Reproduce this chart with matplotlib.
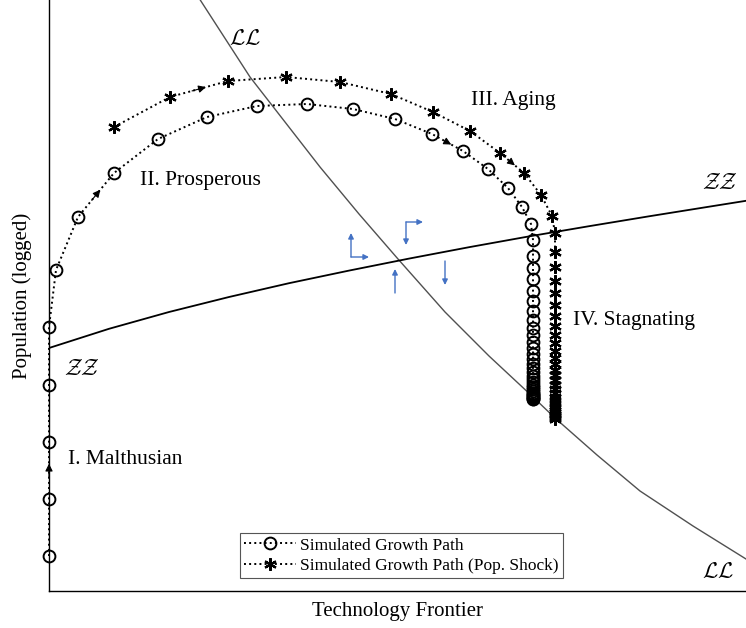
import matplotlib
matplotlib.use("Agg")
import matplotlib.pyplot as plt

# Simulated growth path (circles), arbitrary units (logged)
path_x = [0, 0, 0, 0, 0, 7, 29, 65, 109, 158, 208, 258, 304, 346, 383, 414, 439, 459, 473, 482,
          484, 484, 484, 484, 484, 484, 484, 484, 484, 484, 484, 484, 484, 484, 484, 484, 484,
          484, 484, 484, 484, 484, 484, 484, 484, 484, 484, 484, 484, 484, 484, 484]
path_y = [35, 92, 149, 206, 264, 321, 374, 418, 452, 474, 485, 487, 482, 472, 457, 440, 422, 403, 384, 367,
          351, 335, 323, 312, 300, 290, 280, 271, 263, 256, 249, 243, 237, 232, 227, 223, 219,
          215, 212, 209, 206, 204, 202, 200, 198, 197, 196, 195, 194, 193, 192.5, 192]

# Simulated growth path with population shock (asterisks)
shock_x = [65, 121, 179, 237, 291, 342, 384, 421, 451, 475, 492, 503,
           506, 506, 506, 506, 506, 506, 506, 506, 506, 506, 506, 506, 506, 506, 506, 506,
           506, 506, 506, 506, 506, 506, 506, 506, 506, 506, 506, 506, 506, 506, 506, 506]
shock_y = [464, 494, 510, 514, 509, 497, 479, 460, 438, 418, 396, 375,
           358, 339, 324, 310, 298, 286, 275, 265, 256, 248, 240, 233, 227, 221, 216, 211,
           206, 202, 198, 194, 191, 188, 185, 183, 181, 179, 177, 176, 175, 174, 173, 172.5]

# segments (index i -> i+1) carrying direction arrows
path_arrows = [1, 6, 14]
shock_arrows = [1, 8]

# ZZ and LL loci
zz_x = [0, 60, 120, 180, 240, 300, 360, 420, 480, 540, 600, 660, 697]
zz_y = [243, 262.2, 279.0, 294.0, 307.8, 320.4, 332.4, 343.8, 354.6, 364.8, 374.7, 384.3, 390.2]
ll_x = [148, 201, 236, 271, 310, 349, 396, 440, 484, 506, 548, 591, 644, 697]
ll_y = [596, 514, 469, 424, 377, 332, 279, 235, 194, 173, 136, 100, 65, 32]

# phase-diagram motion arrows around the crossing: (x0, y0, dx, dy)
motion_arrows = [
    (302, 334, 0, 24), (302, 334, 18, 0),
    (357, 369, 17, 0), (357, 369, 0, -23),
    (346, 298, 0, 24), (396, 330, 0, -24),
]

plt.rcParams["font.family"] = ["Liberation Serif", "DejaVu Serif"]
plt.rcParams["mathtext.fontset"] = "cm"

fig = plt.figure(figsize=(7.46, 6.28), dpi=100)
ax = fig.add_axes([49 / 746, 37 / 628, 697 / 746, 591 / 628])
ax.set_xlim(0, 697)
ax.set_ylim(0, 591)

ax.plot(ll_x, ll_y, color="#505050", linewidth=1.0, zorder=2)
ax.plot(zz_x, zz_y, color="black", linewidth=1.3, zorder=2)

ax.plot(path_x, path_y, linestyle=":", color="black", linewidth=1.4,
        marker="o", markersize=8.5, markerfacecolor="none", markeredgewidth=1.4,
        label="Simulated Growth Path", zorder=3, clip_on=False)
ax.plot(shock_x, shock_y, linestyle=":", color="black", linewidth=1.4,
        marker=(6, 2, 0), markersize=9, markeredgewidth=1.6,
        label="Simulated Growth Path (Pop. Shock)", zorder=3)

for xs, ys, idx in [(path_x, path_y, path_arrows), (shock_x, shock_y, shock_arrows)]:
    for i in idx:
        mx = (xs[i] + xs[i + 1]) / 2
        my = (ys[i] + ys[i + 1]) / 2
        dx = (xs[i + 1] - xs[i]) * 0.12
        dy = (ys[i + 1] - ys[i]) * 0.12
        ax.annotate("", xy=(mx + dx, my + dy), xytext=(mx - dx, my - dy),
                    arrowprops=dict(arrowstyle="-|>", color="black", lw=0.8,
                                    mutation_scale=11, shrinkA=0, shrinkB=0),
                    zorder=4, annotation_clip=False)

for x0, y0, dx, dy in motion_arrows:
    ax.annotate("", xy=(x0 + dx, y0 + dy), xytext=(x0, y0),
                arrowprops=dict(arrowstyle="-|>", color="#4472c4", lw=1.0,
                                mutation_scale=8, shrinkA=0, shrinkB=0))

ax.text(196, 551, r"$\mathcal{LL}$", fontsize=16, ha="center", va="center")
ax.text(669, 18, r"$\mathcal{LL}$", fontsize=16, ha="center", va="center")
ax.text(671, 407, r"$\mathcal{ZZ}$", fontsize=16, ha="center", va="center")
ax.text(33, 221, r"$\mathcal{ZZ}$", fontsize=16, ha="center", va="center")

ax.text(91, 411, "II. Prosperous", fontsize=15.5, va="center")
ax.text(422, 491, "III. Aging", fontsize=15.5, va="center")
ax.text(524, 271, "IV. Stagnating", fontsize=15.5, va="center")
ax.text(19, 132, "I. Malthusian", fontsize=15.5, va="center")

ax.set_xlabel("Technology Frontier", fontsize=15, labelpad=8)
ax.set_ylabel("Population (logged)", fontsize=15, labelpad=12)
ax.set_xticks([])
ax.set_yticks([])
for side in ["top", "right"]:
    ax.spines[side].set_visible(False)
for side in ["left", "bottom"]:
    ax.spines[side].set_linewidth(1.0)

leg = ax.legend(loc="upper left", bbox_to_anchor=(0.274, 0.098), fontsize=12.5,
                frameon=True, fancybox=False, edgecolor="#555555", framealpha=1,
                handlelength=3.0, handletextpad=0.2, labelspacing=0.25,
                borderpad=0.25, borderaxespad=0)
leg.get_frame().set_linewidth(0.8)

fig.savefig("out.png", dpi=100)
